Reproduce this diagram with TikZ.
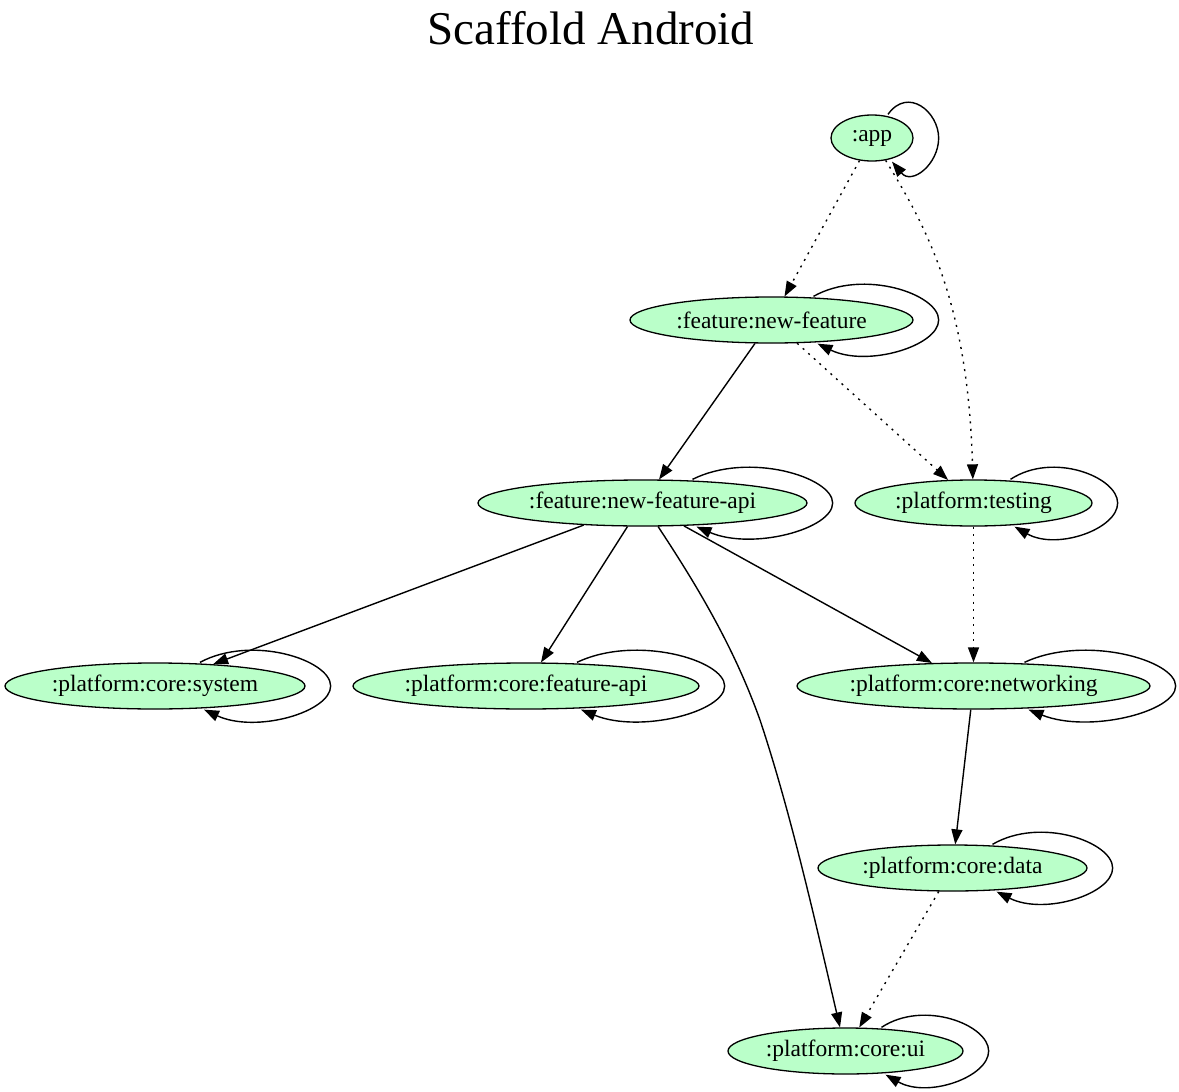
\documentclass[tikz,border=0pt]{standalone}
\usepackage{fontspec}
\setmainfont{Liberation Serif}
\usetikzlibrary{shapes.geometric,arrows.meta,calc}
\definecolor{modgreen}{HTML}{BAFFC9}
\newcommand\modloop[3]{\draw[edge] ([xshift=#2]#1.north) .. controls +(0.4*#3,-28) and +(0,-26) .. ([xshift=25]#1.east) .. controls +(0,26) and +(0.4*#3,24) .. ([xshift=#2+4]#1.south);}
\begin{document}
\begin{tikzpicture}[x=1pt,y=-1pt,
  mod/.style={ellipse,draw=black,fill=modgreen,line width=1.3pt,inner sep=0pt,minimum height=46pt,font=\fontsize{23.5}{26}\selectfont},
  edge/.style={line width=1.4pt,-{Triangle[length=15pt,width=11pt]}},
  dot/.style={edge,dash pattern=on 2pt off 5.5pt}]
\useasboundingbox (0,0) rectangle (1179,1092);
\node[anchor=base,font=\fontsize{47}{52}\selectfont] (title) at (591,44) {Scaffold Android};
\node[mod,minimum width=82pt] (app) at (872,138) {:app};
\node[mod,minimum width=283pt] (newfeat) at (771.5,320) {:feature:new-feature};
\node[mod,minimum width=329pt] (api) at (642.5,503) {:feature:new-feature-api};
\node[mod,minimum width=237pt] (testing) at (973.5,503) {:platform:testing};
\node[mod,minimum width=300pt] (system) at (155,686) {:platform:core:system};
\node[mod,minimum width=346pt] (featapi) at (526,686) {:platform:core:feature-api};
\node[mod,minimum width=353pt] (networking) at (973.5,686) {:platform:core:networking};
\node[mod,minimum width=269pt] (data) at (952.5,868) {:platform:core:data};
\node[mod,minimum width=235pt] (ui) at (845.5,1051) {:platform:core:ui};
\modloop{app}{16}{50}
\modloop{newfeat}{42}{124}
\modloop{api}{50}{140}
\modloop{testing}{37}{106}
\modloop{system}{45}{130}
\modloop{featapi}{51}{147}
\modloop{networking}{51}{150}
\modloop{data}{40}{120}
\modloop{ui}{36}{106}
\draw[dot] (app) -- (newfeat);
\draw[dot] (app) .. controls (925,225) and (968,300) .. (testing);
\draw[edge] (newfeat) -- (api);
\draw[dot] (newfeat) -- (testing);
\draw[edge] (api) -- (system);
\draw[edge] (api) -- (featapi);
\draw[edge] (api) .. controls (700,590) and (735,650) .. (760,720) .. controls (790,810) and (815,920) .. (ui);
\draw[edge] (api) -- (networking);
\draw[dot] (testing) -- (networking);
\draw[edge] (networking) -- (data);
\draw[dot] (data) -- (ui);
\end{tikzpicture}
\end{document}
